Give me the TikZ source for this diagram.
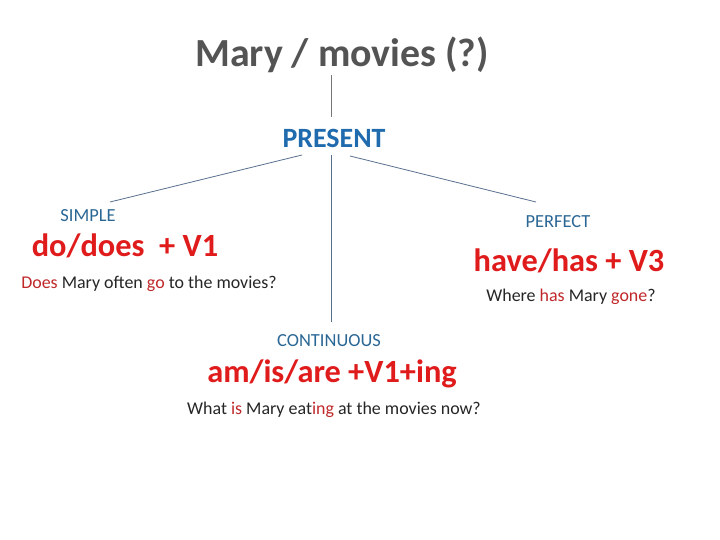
\documentclass[tikz,border=0pt]{standalone}
\usepackage{fontspec}
\setmainfont{Carlito}
\usetikzlibrary{positioning}
\definecolor{titlegrey}{HTML}{545454}
\definecolor{headblue}{HTML}{1F6BAE}
\definecolor{smallblue}{HTML}{2A6795}
\definecolor{formred}{HTML}{E01B1B}
\definecolor{wordred}{HTML}{C0282A}
\definecolor{linegrey}{HTML}{58708E}
\newcommand{\hl}[1]{\textcolor{wordred}{#1}}

\begin{document}
\begin{tikzpicture}[x=1bp,y=-1bp,
  title node/.style={inner sep=0pt,text=titlegrey,font=\fontsize{40}{46}\selectfont\bfseries},
  head node/.style={inner sep=0pt,text=headblue,font=\fontsize{28}{33}\selectfont\bfseries},
  kind node/.style={inner sep=0pt,text=smallblue,font=\fontsize{18.5}{22}\selectfont},
  form node/.style={inner sep=0pt,text=formred,font=\fontsize{32.5}{38}\selectfont\bfseries},
  ex node/.style={inner sep=0pt,text=black!85,font=\fontsize{18}{22}\selectfont},
  branch/.style={draw=linegrey,line width=0.8pt}]

  \useasboundingbox[fill=white] (0,0) rectangle (720,540);

  \node[title node] (title) at (342,55) {Mary / movies (?)};
  \node[head node] (present) at (334,138) {PRESENT};

  % simple
  \node[kind node] (simple) at (88,216) {SIMPLE};
  \node[form node] (doform) at (125,246) {do/does \ + V1};
  \node[ex node] (doex) at (149,284) {\hl{Does} Mary often \hl{go} to the movies?};

  % perfect
  \node[kind node] (perfect) at (558,222) {PERFECT};
  \node[form node] (haveform) at (569,261) {have/has + V3};
  \node[ex node] (haveex) at (571,297) {Where \hl{has} Mary \hl{gone}?};

  % continuous
  \node[kind node] (cont) at (329,341) {CONTINUOUS};
  \node[form node] (beform) at (332,374) {am/is/are +V1+ing};
  \node[ex node] (beex) at (334,410) {What \hl{is} Mary eat\hl{ing} at the movies now?};

  \coordinate (top) at (331,75);
  \coordinate (mid) at (331,117);
  \coordinate (pl) at (302,155);
  \coordinate (pc) at (331,155);
  \coordinate (pr) at (350,156);
  \coordinate (sl) at (110,202);
  \coordinate (sr) at (536,202);
  \coordinate (sc) at (331,322);

  \draw[branch,draw=titlegrey!80] (top) -- (mid);
  \draw[branch] (pl) -- (sl);
  \draw[branch] (pr) -- (sr);
  \draw[branch] (pc) -- (sc);
\end{tikzpicture}
\end{document}
